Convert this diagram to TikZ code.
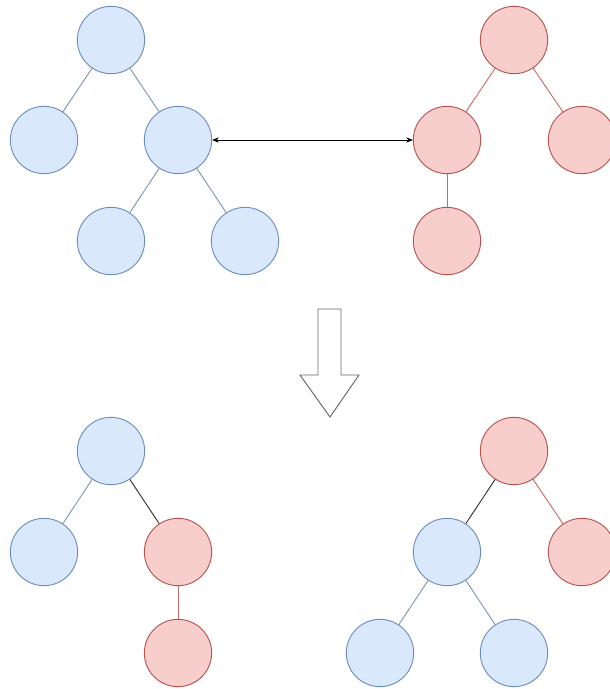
\documentclass[tikz,border=0pt]{standalone}
\usepackage{tikz}
\usetikzlibrary{arrows.meta}
\definecolor{bluefill}{HTML}{DAE8FC}
\definecolor{bluedraw}{HTML}{6C8EBF}
\definecolor{redfill}{HTML}{F8CECC}
\definecolor{reddraw}{HTML}{B85450}
\tikzset{
  bnode/.style={circle,draw=bluedraw,fill=bluefill,line width=0.8pt,minimum size=20.2mm,inner sep=0pt},
  rnode/.style={circle,draw=reddraw,fill=redfill,line width=0.8pt,minimum size=20.2mm,inner sep=0pt},
  bedge/.style={draw=bluedraw!70!gray!90,line width=0.8pt},
  redge/.style={draw=reddraw!85,line width=0.8pt},
  kedge/.style={draw=black!80,line width=0.8pt}
}
\begin{document}
\begin{tikzpicture}[x=0.3mm,y=-0.3mm]
    \useasboundingbox (0,0) rectangle (609,689);
    \node[bnode] (A) at (111,40) {};   \node[bnode] (B) at (44,140) {};
    \node[bnode] (C) at (178,140) {};  \node[bnode] (D) at (111,241) {};
    \node[bnode] (E) at (245,241) {};
    \node[rnode] (P) at (514,40) {};   \node[rnode] (Q) at (447,140) {};
    \node[rnode] (R) at (582,140) {};  \node[rnode] (S) at (447,241) {};
    \draw[bedge] (A) -- (B); \draw[bedge] (A) -- (C);
    \draw[bedge] (C) -- (D); \draw[bedge] (C) -- (E);
    \draw[redge] (P) -- (Q); \draw[redge] (P) -- (R);
    \draw[redge] (Q) -- (S);
    \draw[{Stealth[length=2mm,width=1.6mm]}-{Stealth[length=2mm,width=1.6mm]},line width=0.5pt] (C) -- (Q);
    \draw[draw=black!60,fill=white,line width=0.8pt]
        (318,309) -- (341,309) -- (341,375) -- (359,375) -- (330,417)
        -- (300,375) -- (318,375) -- cycle;
    \node[bnode] (A1) at (111,451) {}; \node[bnode] (B1) at (44,552) {};
    \node[rnode] (C1) at (178,552) {}; \node[rnode] (D1) at (178,653) {};
    \draw[bedge] (A1) -- (B1); \draw[kedge] (A1) -- (C1);
    \draw[redge] (C1) -- (D1);
    \node[rnode] (P1) at (514,451) {}; \node[bnode] (Q1) at (447,552) {};
    \node[rnode] (R1) at (582,552) {}; \node[bnode] (S1) at (380,653) {};
    \node[bnode] (T1) at (514,653) {};
    \draw[kedge] (P1) -- (Q1); \draw[redge] (P1) -- (R1);
    \draw[bedge] (Q1) -- (S1); \draw[bedge] (Q1) -- (T1);
\end{tikzpicture}
\end{document}
